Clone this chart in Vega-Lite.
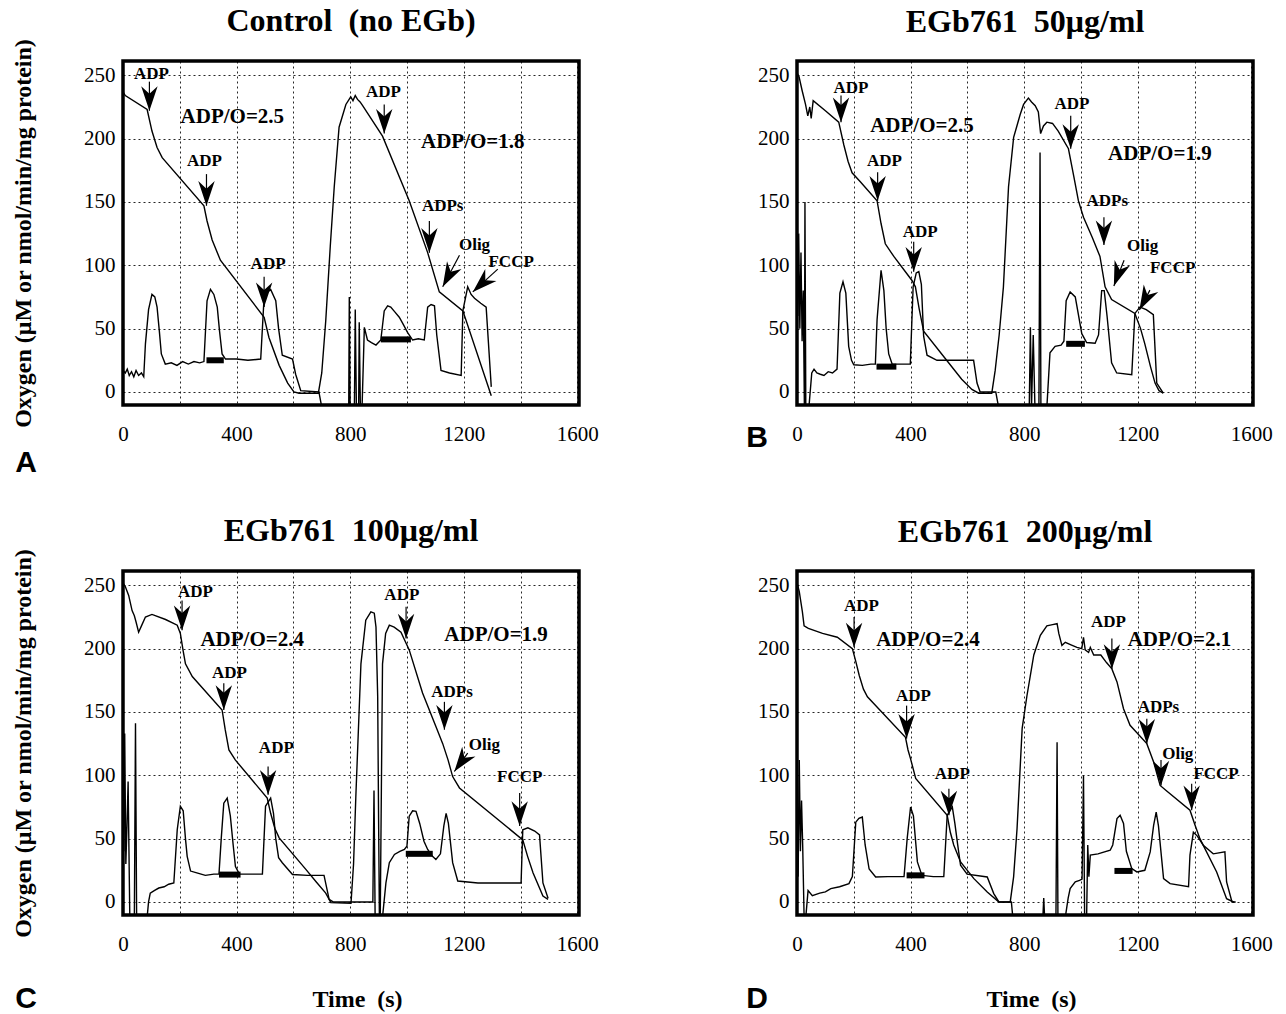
{
"$schema":"https://vega.github.io/schema/vega-lite/v6.json",
"padding":{"left":9,"top":3,"right":5,"bottom":0},
"background":"white",
"datasets":{
"traces":[
{"p":"A","s":"o","t":0,"v":237},{"p":"A","s":"o","t":8,"v":234},{"p":"A","s":"o","t":85,"v":223},{"p":"A","s":"o","t":102,"v":206},{"p":"A","s":"o","t":120,"v":193},{"p":"A","s":"o","t":138,"v":185},{"p":"A","s":"o","t":285,"v":147},{"p":"A","s":"o","t":296,"v":135},{"p":"A","s":"o","t":314,"v":120},{"p":"A","s":"o","t":343,"v":104},{"p":"A","s":"o","t":497,"v":59},{"p":"A","s":"o","t":514,"v":43},{"p":"A","s":"o","t":550,"v":21},{"p":"A","s":"o","t":580,"v":7},{"p":"A","s":"o","t":602,"v":0},{"p":"A","s":"o","t":620,"v":-1},{"p":"A","s":"o","t":688,"v":-1},{"p":"A","s":"o","t":700,"v":15},{"p":"A","s":"o","t":714,"v":56},{"p":"A","s":"o","t":730,"v":115},{"p":"A","s":"o","t":744,"v":162},{"p":"A","s":"o","t":761,"v":209},{"p":"A","s":"o","t":785,"v":227},{"p":"A","s":"o","t":802,"v":233},{"p":"A","s":"o","t":810,"v":230},{"p":"A","s":"o","t":818,"v":234},{"p":"A","s":"o","t":826,"v":231},{"p":"A","s":"o","t":835,"v":229},{"p":"A","s":"o","t":844,"v":226},{"p":"A","s":"o","t":914,"v":202},{"p":"A","s":"o","t":1008,"v":151},{"p":"A","s":"o","t":1073,"v":110},{"p":"A","s":"o","t":1114,"v":79},{"p":"A","s":"o","t":1197,"v":64},{"p":"A","s":"o","t":1297,"v":-3},
{"p":"A","s":"r","t":0,"v":17},{"p":"A","s":"r","t":8,"v":15},{"p":"A","s":"r","t":15,"v":18},{"p":"A","s":"r","t":22,"v":13},{"p":"A","s":"r","t":30,"v":16},{"p":"A","s":"r","t":38,"v":12},{"p":"A","s":"r","t":46,"v":17},{"p":"A","s":"r","t":55,"v":13},{"p":"A","s":"r","t":65,"v":15},{"p":"A","s":"r","t":73,"v":12},{"p":"A","s":"r","t":79,"v":38},{"p":"A","s":"r","t":90,"v":65},{"p":"A","s":"r","t":102,"v":77},{"p":"A","s":"r","t":112,"v":75},{"p":"A","s":"r","t":120,"v":67},{"p":"A","s":"r","t":128,"v":48},{"p":"A","s":"r","t":135,"v":30},{"p":"A","s":"r","t":149,"v":22},{"p":"A","s":"r","t":170,"v":23},{"p":"A","s":"r","t":190,"v":21},{"p":"A","s":"r","t":210,"v":24},{"p":"A","s":"r","t":230,"v":22},{"p":"A","s":"r","t":250,"v":24},{"p":"A","s":"r","t":270,"v":23},{"p":"A","s":"r","t":285,"v":24},{"p":"A","s":"r","t":296,"v":72},{"p":"A","s":"r","t":308,"v":81},{"p":"A","s":"r","t":320,"v":77},{"p":"A","s":"r","t":332,"v":67},{"p":"A","s":"r","t":340,"v":48},{"p":"A","s":"r","t":349,"v":30},{"p":"A","s":"r","t":361,"v":26},{"p":"A","s":"r","t":400,"v":26},{"p":"A","s":"r","t":440,"v":25},{"p":"A","s":"r","t":485,"v":26},{"p":"A","s":"r","t":497,"v":75},{"p":"A","s":"r","t":510,"v":79},{"p":"A","s":"r","t":520,"v":81},{"p":"A","s":"r","t":538,"v":72},{"p":"A","s":"r","t":548,"v":50},{"p":"A","s":"r","t":561,"v":29},{"p":"A","s":"r","t":597,"v":26},{"p":"A","s":"r","t":608,"v":14},{"p":"A","s":"r","t":626,"v":1},{"p":"A","s":"r","t":690,"v":0},{"p":"A","s":"r","t":700,"v":-12},{"p":"A","s":"r","t":795,"v":-12},{"p":"A","s":"r","t":797,"v":75},{"p":"A","s":"r","t":800,"v":-12},{"p":"A","s":"r","t":815,"v":-12},{"p":"A","s":"r","t":818,"v":65},{"p":"A","s":"r","t":822,"v":-12},{"p":"A","s":"r","t":830,"v":-12},{"p":"A","s":"r","t":832,"v":55},{"p":"A","s":"r","t":836,"v":-12},{"p":"A","s":"r","t":842,"v":-12},{"p":"A","s":"r","t":850,"v":51},{"p":"A","s":"r","t":861,"v":41},{"p":"A","s":"r","t":875,"v":39},{"p":"A","s":"r","t":891,"v":37},{"p":"A","s":"r","t":908,"v":41},{"p":"A","s":"r","t":920,"v":64},{"p":"A","s":"r","t":932,"v":68},{"p":"A","s":"r","t":943,"v":67},{"p":"A","s":"r","t":958,"v":63},{"p":"A","s":"r","t":973,"v":59},{"p":"A","s":"r","t":988,"v":53},{"p":"A","s":"r","t":1002,"v":47},{"p":"A","s":"r","t":1020,"v":41},{"p":"A","s":"r","t":1040,"v":42},{"p":"A","s":"r","t":1061,"v":41},{"p":"A","s":"r","t":1073,"v":67},{"p":"A","s":"r","t":1085,"v":69},{"p":"A","s":"r","t":1097,"v":68},{"p":"A","s":"r","t":1105,"v":45},{"p":"A","s":"r","t":1120,"v":17},{"p":"A","s":"r","t":1150,"v":15},{"p":"A","s":"r","t":1191,"v":13},{"p":"A","s":"r","t":1197,"v":64},{"p":"A","s":"r","t":1214,"v":83},{"p":"A","s":"r","t":1226,"v":77},{"p":"A","s":"r","t":1238,"v":74},{"p":"A","s":"r","t":1260,"v":70},{"p":"A","s":"r","t":1279,"v":67},{"p":"A","s":"r","t":1297,"v":4},
{"p":"B","s":"o","t":0,"v":252},{"p":"B","s":"o","t":7,"v":249},{"p":"B","s":"o","t":18,"v":238},{"p":"B","s":"o","t":30,"v":227},{"p":"B","s":"o","t":38,"v":218},{"p":"B","s":"o","t":45,"v":225},{"p":"B","s":"o","t":50,"v":216},{"p":"B","s":"o","t":57,"v":230},{"p":"B","s":"o","t":100,"v":222},{"p":"B","s":"o","t":147,"v":213},{"p":"B","s":"o","t":165,"v":195},{"p":"B","s":"o","t":180,"v":182},{"p":"B","s":"o","t":194,"v":173},{"p":"B","s":"o","t":223,"v":166},{"p":"B","s":"o","t":282,"v":151},{"p":"B","s":"o","t":296,"v":133},{"p":"B","s":"o","t":311,"v":117},{"p":"B","s":"o","t":341,"v":107},{"p":"B","s":"o","t":405,"v":88},{"p":"B","s":"o","t":417,"v":83},{"p":"B","s":"o","t":430,"v":66},{"p":"B","s":"o","t":446,"v":48},{"p":"B","s":"o","t":520,"v":27},{"p":"B","s":"o","t":580,"v":10},{"p":"B","s":"o","t":616,"v":2},{"p":"B","s":"o","t":640,"v":-1},{"p":"B","s":"o","t":686,"v":-1},{"p":"B","s":"o","t":698,"v":17},{"p":"B","s":"o","t":712,"v":45},{"p":"B","s":"o","t":727,"v":83},{"p":"B","s":"o","t":745,"v":162},{"p":"B","s":"o","t":763,"v":201},{"p":"B","s":"o","t":786,"v":219},{"p":"B","s":"o","t":798,"v":227},{"p":"B","s":"o","t":808,"v":230},{"p":"B","s":"o","t":815,"v":232},{"p":"B","s":"o","t":826,"v":229},{"p":"B","s":"o","t":839,"v":226},{"p":"B","s":"o","t":850,"v":221},{"p":"B","s":"o","t":858,"v":204},{"p":"B","s":"o","t":868,"v":210},{"p":"B","s":"o","t":880,"v":213},{"p":"B","s":"o","t":900,"v":212},{"p":"B","s":"o","t":920,"v":206},{"p":"B","s":"o","t":956,"v":192},{"p":"B","s":"o","t":975,"v":170},{"p":"B","s":"o","t":991,"v":151},{"p":"B","s":"o","t":1009,"v":138},{"p":"B","s":"o","t":1040,"v":122},{"p":"B","s":"o","t":1067,"v":107},{"p":"B","s":"o","t":1085,"v":83},{"p":"B","s":"o","t":1108,"v":73},{"p":"B","s":"o","t":1190,"v":62},{"p":"B","s":"o","t":1210,"v":50},{"p":"B","s":"o","t":1225,"v":38},{"p":"B","s":"o","t":1245,"v":20},{"p":"B","s":"o","t":1261,"v":7},{"p":"B","s":"o","t":1275,"v":1},{"p":"B","s":"o","t":1290,"v":-1},
{"p":"B","s":"r","t":0,"v":120},{"p":"B","s":"r","t":3,"v":60},{"p":"B","s":"r","t":6,"v":125},{"p":"B","s":"r","t":10,"v":50},{"p":"B","s":"r","t":14,"v":110},{"p":"B","s":"r","t":18,"v":40},{"p":"B","s":"r","t":22,"v":80},{"p":"B","s":"r","t":26,"v":-12},{"p":"B","s":"r","t":28,"v":150},{"p":"B","s":"r","t":31,"v":-12},{"p":"B","s":"r","t":42,"v":-12},{"p":"B","s":"r","t":52,"v":15},{"p":"B","s":"r","t":60,"v":18},{"p":"B","s":"r","t":70,"v":15},{"p":"B","s":"r","t":82,"v":14},{"p":"B","s":"r","t":95,"v":13},{"p":"B","s":"r","t":110,"v":16},{"p":"B","s":"r","t":125,"v":15},{"p":"B","s":"r","t":141,"v":18},{"p":"B","s":"r","t":151,"v":78},{"p":"B","s":"r","t":162,"v":87},{"p":"B","s":"r","t":172,"v":78},{"p":"B","s":"r","t":182,"v":36},{"p":"B","s":"r","t":192,"v":25},{"p":"B","s":"r","t":200,"v":21.5},{"p":"B","s":"r","t":230,"v":21},{"p":"B","s":"r","t":260,"v":22},{"p":"B","s":"r","t":276,"v":22},{"p":"B","s":"r","t":282,"v":57},{"p":"B","s":"r","t":296,"v":96},{"p":"B","s":"r","t":306,"v":80},{"p":"B","s":"r","t":314,"v":50},{"p":"B","s":"r","t":323,"v":30},{"p":"B","s":"r","t":335,"v":22},{"p":"B","s":"r","t":399,"v":22},{"p":"B","s":"r","t":409,"v":83},{"p":"B","s":"r","t":420,"v":94},{"p":"B","s":"r","t":429,"v":95},{"p":"B","s":"r","t":438,"v":85},{"p":"B","s":"r","t":446,"v":44},{"p":"B","s":"r","t":458,"v":29},{"p":"B","s":"r","t":493,"v":25},{"p":"B","s":"r","t":560,"v":25},{"p":"B","s":"r","t":622,"v":25},{"p":"B","s":"r","t":634,"v":7},{"p":"B","s":"r","t":645,"v":0},{"p":"B","s":"r","t":700,"v":0},{"p":"B","s":"r","t":710,"v":-12},{"p":"B","s":"r","t":818,"v":-12},{"p":"B","s":"r","t":822,"v":51},{"p":"B","s":"r","t":826,"v":-12},{"p":"B","s":"r","t":832,"v":45},{"p":"B","s":"r","t":838,"v":-12},{"p":"B","s":"r","t":852,"v":-12},{"p":"B","s":"r","t":856,"v":189},{"p":"B","s":"r","t":859,"v":-12},{"p":"B","s":"r","t":880,"v":-12},{"p":"B","s":"r","t":891,"v":31},{"p":"B","s":"r","t":909,"v":36},{"p":"B","s":"r","t":930,"v":37},{"p":"B","s":"r","t":940,"v":40},{"p":"B","s":"r","t":948,"v":72},{"p":"B","s":"r","t":962,"v":79},{"p":"B","s":"r","t":980,"v":75},{"p":"B","s":"r","t":1003,"v":46},{"p":"B","s":"r","t":1020,"v":39},{"p":"B","s":"r","t":1050,"v":38.5},{"p":"B","s":"r","t":1062,"v":45},{"p":"B","s":"r","t":1073,"v":80},{"p":"B","s":"r","t":1082,"v":80},{"p":"B","s":"r","t":1092,"v":60},{"p":"B","s":"r","t":1108,"v":23},{"p":"B","s":"r","t":1126,"v":15},{"p":"B","s":"r","t":1179,"v":13.6},{"p":"B","s":"r","t":1190,"v":62},{"p":"B","s":"r","t":1208,"v":67},{"p":"B","s":"r","t":1230,"v":65},{"p":"B","s":"r","t":1255,"v":61},{"p":"B","s":"r","t":1267,"v":7},{"p":"B","s":"r","t":1290,"v":-1},
{"p":"C","s":"o","t":0,"v":252},{"p":"C","s":"o","t":8,"v":249},{"p":"C","s":"o","t":20,"v":242},{"p":"C","s":"o","t":32,"v":230},{"p":"C","s":"o","t":40,"v":226},{"p":"C","s":"o","t":46,"v":221},{"p":"C","s":"o","t":55,"v":213},{"p":"C","s":"o","t":65,"v":218},{"p":"C","s":"o","t":79,"v":225},{"p":"C","s":"o","t":102,"v":227},{"p":"C","s":"o","t":150,"v":223},{"p":"C","s":"o","t":191,"v":218.5},{"p":"C","s":"o","t":202,"v":212},{"p":"C","s":"o","t":212,"v":198},{"p":"C","s":"o","t":220,"v":188},{"p":"C","s":"o","t":244,"v":178},{"p":"C","s":"o","t":349,"v":151.6},{"p":"C","s":"o","t":360,"v":136},{"p":"C","s":"o","t":373,"v":120},{"p":"C","s":"o","t":396,"v":112},{"p":"C","s":"o","t":508,"v":82},{"p":"C","s":"o","t":520,"v":70},{"p":"C","s":"o","t":535,"v":58},{"p":"C","s":"o","t":550,"v":50.6},{"p":"C","s":"o","t":644,"v":25.7},{"p":"C","s":"o","t":680,"v":16},{"p":"C","s":"o","t":714,"v":7},{"p":"C","s":"o","t":732,"v":-0.5},{"p":"C","s":"o","t":803,"v":-1},{"p":"C","s":"o","t":812,"v":30},{"p":"C","s":"o","t":820,"v":83},{"p":"C","s":"o","t":838,"v":188},{"p":"C","s":"o","t":855,"v":222.5},{"p":"C","s":"o","t":873,"v":229},{"p":"C","s":"o","t":885,"v":228},{"p":"C","s":"o","t":891,"v":217},{"p":"C","s":"o","t":897,"v":162},{"p":"C","s":"o","t":900,"v":70},{"p":"C","s":"o","t":903,"v":-12},{"p":"C","s":"o","t":906,"v":-12},{"p":"C","s":"o","t":910,"v":90},{"p":"C","s":"o","t":914,"v":188},{"p":"C","s":"o","t":925,"v":212},{"p":"C","s":"o","t":938,"v":218.5},{"p":"C","s":"o","t":955,"v":217},{"p":"C","s":"o","t":979,"v":213},{"p":"C","s":"o","t":1008,"v":199},{"p":"C","s":"o","t":1055,"v":165},{"p":"C","s":"o","t":1102,"v":138.5},{"p":"C","s":"o","t":1126,"v":125},{"p":"C","s":"o","t":1145,"v":112},{"p":"C","s":"o","t":1161,"v":99},{"p":"C","s":"o","t":1185,"v":90},{"p":"C","s":"o","t":1408,"v":49},{"p":"C","s":"o","t":1425,"v":36},{"p":"C","s":"o","t":1444,"v":23},{"p":"C","s":"o","t":1479,"v":4.7},{"p":"C","s":"o","t":1497,"v":2},
{"p":"C","s":"r","t":0,"v":130},{"p":"C","s":"r","t":3,"v":40},{"p":"C","s":"r","t":6,"v":133},{"p":"C","s":"r","t":10,"v":30},{"p":"C","s":"r","t":14,"v":60},{"p":"C","s":"r","t":18,"v":95},{"p":"C","s":"r","t":21,"v":40},{"p":"C","s":"r","t":24,"v":-12},{"p":"C","s":"r","t":40,"v":-12},{"p":"C","s":"r","t":44,"v":141},{"p":"C","s":"r","t":48,"v":-12},{"p":"C","s":"r","t":85,"v":-12},{"p":"C","s":"r","t":90,"v":0},{"p":"C","s":"r","t":96,"v":7},{"p":"C","s":"r","t":110,"v":9},{"p":"C","s":"r","t":126,"v":11},{"p":"C","s":"r","t":145,"v":12},{"p":"C","s":"r","t":161,"v":14},{"p":"C","s":"r","t":179,"v":15},{"p":"C","s":"r","t":191,"v":57},{"p":"C","s":"r","t":202,"v":75.6},{"p":"C","s":"r","t":212,"v":72},{"p":"C","s":"r","t":220,"v":50},{"p":"C","s":"r","t":226,"v":36},{"p":"C","s":"r","t":238,"v":24.4},{"p":"C","s":"r","t":260,"v":23},{"p":"C","s":"r","t":290,"v":21},{"p":"C","s":"r","t":320,"v":22},{"p":"C","s":"r","t":338,"v":22},{"p":"C","s":"r","t":346,"v":50},{"p":"C","s":"r","t":355,"v":78},{"p":"C","s":"r","t":367,"v":82},{"p":"C","s":"r","t":378,"v":68},{"p":"C","s":"r","t":388,"v":45},{"p":"C","s":"r","t":396,"v":28},{"p":"C","s":"r","t":410,"v":22},{"p":"C","s":"r","t":450,"v":22},{"p":"C","s":"r","t":491,"v":22},{"p":"C","s":"r","t":502,"v":75.6},{"p":"C","s":"r","t":520,"v":82},{"p":"C","s":"r","t":530,"v":70},{"p":"C","s":"r","t":538,"v":50},{"p":"C","s":"r","t":548,"v":35},{"p":"C","s":"r","t":561,"v":31},{"p":"C","s":"r","t":597,"v":21.7},{"p":"C","s":"r","t":650,"v":21},{"p":"C","s":"r","t":708,"v":21},{"p":"C","s":"r","t":726,"v":2},{"p":"C","s":"r","t":740,"v":0},{"p":"C","s":"r","t":880,"v":0},{"p":"C","s":"r","t":884,"v":88},{"p":"C","s":"r","t":888,"v":-12},{"p":"C","s":"r","t":914,"v":-12},{"p":"C","s":"r","t":926,"v":15},{"p":"C","s":"r","t":938,"v":31},{"p":"C","s":"r","t":956,"v":37.5},{"p":"C","s":"r","t":975,"v":40},{"p":"C","s":"r","t":991,"v":41.4},{"p":"C","s":"r","t":1000,"v":44},{"p":"C","s":"r","t":1008,"v":67.7},{"p":"C","s":"r","t":1020,"v":72},{"p":"C","s":"r","t":1032,"v":71.6},{"p":"C","s":"r","t":1045,"v":62},{"p":"C","s":"r","t":1060,"v":48},{"p":"C","s":"r","t":1073,"v":41.4},{"p":"C","s":"r","t":1090,"v":36},{"p":"C","s":"r","t":1102,"v":33.5},{"p":"C","s":"r","t":1118,"v":38},{"p":"C","s":"r","t":1130,"v":60},{"p":"C","s":"r","t":1138,"v":70},{"p":"C","s":"r","t":1146,"v":62},{"p":"C","s":"r","t":1161,"v":31},{"p":"C","s":"r","t":1179,"v":16.5},{"p":"C","s":"r","t":1250,"v":15},{"p":"C","s":"r","t":1350,"v":15},{"p":"C","s":"r","t":1402,"v":15},{"p":"C","s":"r","t":1408,"v":57},{"p":"C","s":"r","t":1426,"v":58.5},{"p":"C","s":"r","t":1450,"v":56},{"p":"C","s":"r","t":1467,"v":53},{"p":"C","s":"r","t":1479,"v":15},{"p":"C","s":"r","t":1497,"v":3},
{"p":"D","s":"o","t":0,"v":252},{"p":"D","s":"o","t":8,"v":245},{"p":"D","s":"o","t":19,"v":229},{"p":"D","s":"o","t":25,"v":218},{"p":"D","s":"o","t":40,"v":216},{"p":"D","s":"o","t":90,"v":212},{"p":"D","s":"o","t":142,"v":209},{"p":"D","s":"o","t":195,"v":200},{"p":"D","s":"o","t":207,"v":190},{"p":"D","s":"o","t":219,"v":179},{"p":"D","s":"o","t":234,"v":168},{"p":"D","s":"o","t":248,"v":162},{"p":"D","s":"o","t":382,"v":130},{"p":"D","s":"o","t":391,"v":120},{"p":"D","s":"o","t":400,"v":113},{"p":"D","s":"o","t":418,"v":97.5},{"p":"D","s":"o","t":529,"v":68.4},{"p":"D","s":"o","t":540,"v":55},{"p":"D","s":"o","t":552,"v":45},{"p":"D","s":"o","t":576,"v":31.6},{"p":"D","s":"o","t":623,"v":18.4},{"p":"D","s":"o","t":670,"v":7.9},{"p":"D","s":"o","t":711,"v":0},{"p":"D","s":"o","t":751,"v":0},{"p":"D","s":"o","t":763,"v":20},{"p":"D","s":"o","t":775,"v":57.9},{"p":"D","s":"o","t":793,"v":137},{"p":"D","s":"o","t":810,"v":163},{"p":"D","s":"o","t":834,"v":195},{"p":"D","s":"o","t":857,"v":210.5},{"p":"D","s":"o","t":880,"v":218},{"p":"D","s":"o","t":900,"v":219},{"p":"D","s":"o","t":916,"v":219.7},{"p":"D","s":"o","t":922,"v":212},{"p":"D","s":"o","t":933,"v":202.6},{"p":"D","s":"o","t":945,"v":205},{"p":"D","s":"o","t":965,"v":203},{"p":"D","s":"o","t":986,"v":201},{"p":"D","s":"o","t":1003,"v":200},{"p":"D","s":"o","t":1009,"v":209},{"p":"D","s":"o","t":1015,"v":199},{"p":"D","s":"o","t":1027,"v":197},{"p":"D","s":"o","t":1033,"v":201},{"p":"D","s":"o","t":1045,"v":195},{"p":"D","s":"o","t":1070,"v":195},{"p":"D","s":"o","t":1090,"v":189},{"p":"D","s":"o","t":1109,"v":184},{"p":"D","s":"o","t":1127,"v":173.7},{"p":"D","s":"o","t":1150,"v":152.6},{"p":"D","s":"o","t":1173,"v":139.5},{"p":"D","s":"o","t":1232,"v":125},{"p":"D","s":"o","t":1256,"v":110.5},{"p":"D","s":"o","t":1279,"v":92},{"p":"D","s":"o","t":1300,"v":88},{"p":"D","s":"o","t":1384,"v":72.4},{"p":"D","s":"o","t":1402,"v":60.5},{"p":"D","s":"o","t":1419,"v":50},{"p":"D","s":"o","t":1478,"v":23.7},{"p":"D","s":"o","t":1513,"v":2.6},{"p":"D","s":"o","t":1537,"v":0},{"p":"D","s":"o","t":1545,"v":0},
{"p":"D","s":"r","t":0,"v":100},{"p":"D","s":"r","t":4,"v":20},{"p":"D","s":"r","t":8,"v":112},{"p":"D","s":"r","t":12,"v":40},{"p":"D","s":"r","t":16,"v":80},{"p":"D","s":"r","t":20,"v":45},{"p":"D","s":"r","t":25,"v":-12},{"p":"D","s":"r","t":31,"v":-12},{"p":"D","s":"r","t":39,"v":9},{"p":"D","s":"r","t":54,"v":5},{"p":"D","s":"r","t":80,"v":7},{"p":"D","s":"r","t":100,"v":8},{"p":"D","s":"r","t":119,"v":10.5},{"p":"D","s":"r","t":150,"v":12},{"p":"D","s":"r","t":183,"v":14.5},{"p":"D","s":"r","t":195,"v":20},{"p":"D","s":"r","t":207,"v":63},{"p":"D","s":"r","t":218,"v":66},{"p":"D","s":"r","t":230,"v":67},{"p":"D","s":"r","t":240,"v":45},{"p":"D","s":"r","t":254,"v":26},{"p":"D","s":"r","t":277,"v":19.7},{"p":"D","s":"r","t":320,"v":20},{"p":"D","s":"r","t":377,"v":20},{"p":"D","s":"r","t":388,"v":50},{"p":"D","s":"r","t":400,"v":75},{"p":"D","s":"r","t":410,"v":68},{"p":"D","s":"r","t":424,"v":31.6},{"p":"D","s":"r","t":440,"v":21},{"p":"D","s":"r","t":480,"v":20},{"p":"D","s":"r","t":517,"v":20},{"p":"D","s":"r","t":529,"v":68.4},{"p":"D","s":"r","t":547,"v":75},{"p":"D","s":"r","t":556,"v":62},{"p":"D","s":"r","t":566,"v":45},{"p":"D","s":"r","t":576,"v":29},{"p":"D","s":"r","t":599,"v":22},{"p":"D","s":"r","t":670,"v":19.7},{"p":"D","s":"r","t":693,"v":6.6},{"p":"D","s":"r","t":711,"v":0},{"p":"D","s":"r","t":755,"v":0},{"p":"D","s":"r","t":760,"v":-12},{"p":"D","s":"r","t":866,"v":-12},{"p":"D","s":"r","t":869,"v":3},{"p":"D","s":"r","t":872,"v":-12},{"p":"D","s":"r","t":912,"v":-12},{"p":"D","s":"r","t":916,"v":126},{"p":"D","s":"r","t":919,"v":-12},{"p":"D","s":"r","t":945,"v":-12},{"p":"D","s":"r","t":955,"v":3},{"p":"D","s":"r","t":962,"v":10.5},{"p":"D","s":"r","t":980,"v":15.8},{"p":"D","s":"r","t":995,"v":17},{"p":"D","s":"r","t":1004,"v":18},{"p":"D","s":"r","t":1009,"v":100},{"p":"D","s":"r","t":1013,"v":-12},{"p":"D","s":"r","t":1020,"v":-12},{"p":"D","s":"r","t":1024,"v":45},{"p":"D","s":"r","t":1028,"v":20},{"p":"D","s":"r","t":1033,"v":37},{"p":"D","s":"r","t":1060,"v":38},{"p":"D","s":"r","t":1103,"v":40.8},{"p":"D","s":"r","t":1112,"v":45},{"p":"D","s":"r","t":1127,"v":65.8},{"p":"D","s":"r","t":1138,"v":68.4},{"p":"D","s":"r","t":1150,"v":62},{"p":"D","s":"r","t":1160,"v":40},{"p":"D","s":"r","t":1179,"v":26.3},{"p":"D","s":"r","t":1197,"v":23.7},{"p":"D","s":"r","t":1225,"v":25},{"p":"D","s":"r","t":1244,"v":39.5},{"p":"D","s":"r","t":1256,"v":60.5},{"p":"D","s":"r","t":1265,"v":71},{"p":"D","s":"r","t":1273,"v":60},{"p":"D","s":"r","t":1291,"v":18.4},{"p":"D","s":"r","t":1314,"v":14.5},{"p":"D","s":"r","t":1379,"v":12},{"p":"D","s":"r","t":1384,"v":37},{"p":"D","s":"r","t":1396,"v":55},{"p":"D","s":"r","t":1410,"v":52},{"p":"D","s":"r","t":1431,"v":44.8},{"p":"D","s":"r","t":1466,"v":38},{"p":"D","s":"r","t":1507,"v":39.5},{"p":"D","s":"r","t":1513,"v":15.8},{"p":"D","s":"r","t":1532,"v":0},{"p":"D","s":"r","t":1540,"v":0}
],
"notes":[
{"p":"A","label":"ADP","t":100,"v":251,"k":"s"},{"p":"A","label":"ADP/O=2.5","t":385,"v":217,"k":"b"},{"p":"A","label":"ADP","t":287,"v":182.6,"k":"s"},{"p":"A","label":"ADP","t":511,"v":101,"k":"s"},{"p":"A","label":"ADP","t":917,"v":237,"k":"s"},{"p":"A","label":"ADP/O=1.8","t":1232,"v":197,"k":"b"},{"p":"A","label":"ADPs","t":1126,"v":147,"k":"s"},{"p":"A","label":"Olig","t":1238,"v":116,"k":"s"},{"p":"A","label":"FCCP","t":1367,"v":102.5,"k":"s"},
{"p":"B","label":"ADP","t":190,"v":240,"k":"s"},{"p":"B","label":"ADP/O=2.5","t":440,"v":210,"k":"b"},{"p":"B","label":"ADP","t":308,"v":182.6,"k":"s"},{"p":"B","label":"ADP","t":434,"v":126,"k":"s"},{"p":"B","label":"ADP","t":968,"v":227,"k":"s"},{"p":"B","label":"ADP/O=1.9","t":1278,"v":188,"k":"b"},{"p":"B","label":"ADPs","t":1093,"v":151,"k":"s"},{"p":"B","label":"Olig","t":1217,"v":115,"k":"s"},{"p":"B","label":"FCCP","t":1323,"v":97.5,"k":"s"},
{"p":"C","label":"ADP","t":255,"v":245,"k":"s"},{"p":"C","label":"ADP/O=2.4","t":455,"v":207,"k":"b"},{"p":"C","label":"ADP","t":375,"v":180.5,"k":"s"},{"p":"C","label":"ADP","t":540,"v":121.5,"k":"s"},{"p":"C","label":"ADP","t":982,"v":242,"k":"s"},{"p":"C","label":"ADP/O=1.9","t":1314,"v":210.6,"k":"b"},{"p":"C","label":"ADPs","t":1159,"v":166,"k":"s"},{"p":"C","label":"Olig","t":1273,"v":124,"k":"s"},{"p":"C","label":"FCCP","t":1397,"v":99,"k":"s"},
{"p":"D","label":"ADP","t":227,"v":234,"k":"s"},{"p":"D","label":"ADP/O=2.4","t":461,"v":206.6,"k":"b"},{"p":"D","label":"ADP","t":410,"v":163,"k":"s"},{"p":"D","label":"ADP","t":547,"v":101,"k":"s"},{"p":"D","label":"ADP","t":1097,"v":221,"k":"s"},{"p":"D","label":"ADP/O=2.1","t":1347,"v":206.6,"k":"b"},{"p":"D","label":"ADPs","t":1273,"v":154,"k":"s"},{"p":"D","label":"Olig","t":1341,"v":117,"k":"s"},{"p":"D","label":"FCCP","t":1476,"v":101,"k":"s"}
],
"arrows":[
{"p":"A","t1":93,"v1":245,"t2":93,"v2":222,"ang":0},{"p":"A","t1":294,"v1":172,"t2":294,"v2":147,"ang":0},{"p":"A","t1":497,"v1":91,"t2":497,"v2":67,"ang":0},{"p":"A","t1":920,"v1":227,"t2":920,"v2":204,"ang":0},{"p":"A","t1":1079,"v1":135,"t2":1079,"v2":110,"ang":0},{"p":"A","t1":1185,"v1":108,"t2":1126,"v2":83,"ang":28},{"p":"A","t1":1320,"v1":97,"t2":1232,"v2":79,"ang":47},
{"p":"B","t1":155,"v1":234,"t2":155,"v2":213,"ang":0},{"p":"B","t1":284,"v1":173.5,"t2":284,"v2":151,"ang":0},{"p":"B","t1":411,"v1":118.5,"t2":411,"v2":95,"ang":0},{"p":"B","t1":964,"v1":218,"t2":964,"v2":192,"ang":0},{"p":"B","t1":1081,"v1":138,"t2":1081,"v2":116,"ang":0},{"p":"B","t1":1152,"v1":104,"t2":1116,"v2":83.7,"ang":20},{"p":"B","t1":1243,"v1":80.4,"t2":1206,"v2":64.7,"ang":28},
{"p":"C","t1":208,"v1":238,"t2":208,"v2":214.6,"ang":0},{"p":"C","t1":355,"v1":172.6,"t2":355,"v2":151.6,"ang":0},{"p":"C","t1":511,"v1":107,"t2":511,"v2":84.7,"ang":0},{"p":"C","t1":997,"v1":233,"t2":997,"v2":208,"ang":0},{"p":"C","t1":1132,"v1":158,"t2":1132,"v2":136,"ang":0},{"p":"C","t1":1214,"v1":117.5,"t2":1167,"v2":103,"ang":36},{"p":"C","t1":1397,"v1":86,"t2":1397,"v2":60,"ang":0},
{"p":"D","t1":201,"v1":225,"t2":201,"v2":201,"ang":0},{"p":"D","t1":386,"v1":155,"t2":386,"v2":129,"ang":0},{"p":"D","t1":535,"v1":89.4,"t2":535,"v2":68.4,"ang":0},{"p":"D","t1":1109,"v1":208,"t2":1109,"v2":184,"ang":0},{"p":"D","t1":1232,"v1":144.7,"t2":1232,"v2":125,"ang":0},{"p":"D","t1":1282,"v1":112,"t2":1282,"v2":92,"ang":0},{"p":"D","t1":1390,"v1":93.4,"t2":1390,"v2":72.4,"ang":0}
],
"bars":[
{"p":"A","t1":294,"t2":355,"v":25},{"p":"A","t1":908,"t2":1014,"v":41.5},
{"p":"B","t1":280,"t2":350,"v":20},{"p":"B","t1":948,"t2":1014,"v":38},
{"p":"C","t1":338,"t2":414,"v":21.6},{"p":"C","t1":996,"t2":1091,"v":38},
{"p":"D","t1":386,"t2":449,"v":21},{"p":"D","t1":1118,"t2":1182,"v":24.5}
]
},
"columns":2,
"spacing":{"row":166,"column":218},
"bounds":"flush",
"concat":[
{"width":456,"height":344,"title":{"text":"Control \u00a0(no EGb)","offset":0},
"layer":[
{"data":{"name":"traces"},"transform":[{"filter":"datum.p==='A'"}],"mark":{"type":"line","color":"black","strokeWidth":1.4,"clip":true},
"encoding":{"x":{"field":"t","type":"quantitative","scale":{"domain":[0,1606],"nice":false},"axis":{"values":[0,200,400,600,800,1000,1200,1400,1600],"format":"d","labelExpr":"datum.value % 400 === 0 ? datum.label : ''","title":null}},
"y":{"field":"v","type":"quantitative","scale":{"domain":[-10.3,261.3],"nice":false,"zero":false},"axis":{"values":[0,50,100,150,200,250],"title":"Oxygen (μM or nmol/min/mg protein)","titleX":-100,"titleY":172,"titleAngle":270,"titleBaseline":"middle","titleAlign":"center","titleFontSize":24}},
"detail":{"field":"s"}}},
{"data":{"name":"bars"},"transform":[{"filter":"datum.p==='A'"}],"mark":{"type":"rule","color":"black","strokeWidth":6,"strokeCap":"butt"},"encoding":{"x":{"field":"t1","type":"quantitative"},"x2":{"field":"t2"},"y":{"field":"v","type":"quantitative"}}},
{"data":{"name":"arrows"},"transform":[{"filter":"datum.p==='A'"}],"mark":{"type":"rule","color":"black","strokeWidth":1.2},"encoding":{"x":{"field":"t1","type":"quantitative"},"y":{"field":"v1","type":"quantitative"},"x2":{"field":"t2"},"y2":{"field":"v2"}}},
{"data":{"name":"arrows"},"transform":[{"filter":"datum.p==='A'"}],"mark":{"type":"point","shape":"M0,0L-0.6,-1.8L0,-1.25L0.6,-1.8Z","filled":true,"color":"black","opacity":1,"size":750,"strokeWidth":0},"encoding":{"x":{"field":"t2","type":"quantitative"},"y":{"field":"v2","type":"quantitative"},"angle":{"field":"ang","type":"quantitative","scale":null}}},
{"data":{"name":"notes"},"transform":[{"filter":"datum.p==='A'"}],"mark":{"type":"text","font":"Liberation Serif","fontWeight":"bold","color":"black","align":"center","baseline":"middle"},"encoding":{"x":{"field":"t","type":"quantitative"},"y":{"field":"v","type":"quantitative"},"text":{"field":"label"},"size":{"field":"k","type":"nominal","scale":{"domain":["s","b"],"range":[17,21]},"legend":null}}},
{"data":{"values":[{"L":"A"}]},"mark":{"type":"text","font":"Liberation Sans","fontWeight":"bold","fontSize":30,"color":"black","align":"center","baseline":"middle","dx":-97,"dy":58},"encoding":{"x":{"datum":0},"y":{"datum":-10.3},"text":{"field":"L"}}}
]},
{"width":456,"height":344,"title":{"text":"EGb761 \u00a050μg/ml","offset":22},
"layer":[
{"data":{"name":"traces"},"transform":[{"filter":"datum.p==='B'"}],"mark":{"type":"line","color":"black","strokeWidth":1.4,"clip":true},
"encoding":{"x":{"field":"t","type":"quantitative","scale":{"domain":[0,1606],"nice":false},"axis":{"values":[0,200,400,600,800,1000,1200,1400,1600],"format":"d","labelExpr":"datum.value % 400 === 0 ? datum.label : ''","title":null}},
"y":{"field":"v","type":"quantitative","scale":{"domain":[-10.3,261.3],"nice":false,"zero":false},"axis":{"values":[0,50,100,150,200,250],"title":null}},
"detail":{"field":"s"}}},
{"data":{"name":"bars"},"transform":[{"filter":"datum.p==='B'"}],"mark":{"type":"rule","color":"black","strokeWidth":6,"strokeCap":"butt"},"encoding":{"x":{"field":"t1","type":"quantitative"},"x2":{"field":"t2"},"y":{"field":"v","type":"quantitative"}}},
{"data":{"name":"arrows"},"transform":[{"filter":"datum.p==='B'"}],"mark":{"type":"rule","color":"black","strokeWidth":1.2},"encoding":{"x":{"field":"t1","type":"quantitative"},"y":{"field":"v1","type":"quantitative"},"x2":{"field":"t2"},"y2":{"field":"v2"}}},
{"data":{"name":"arrows"},"transform":[{"filter":"datum.p==='B'"}],"mark":{"type":"point","shape":"M0,0L-0.6,-1.8L0,-1.25L0.6,-1.8Z","filled":true,"color":"black","opacity":1,"size":750,"strokeWidth":0},"encoding":{"x":{"field":"t2","type":"quantitative"},"y":{"field":"v2","type":"quantitative"},"angle":{"field":"ang","type":"quantitative","scale":null}}},
{"data":{"name":"notes"},"transform":[{"filter":"datum.p==='B'"}],"mark":{"type":"text","font":"Liberation Serif","fontWeight":"bold","color":"black","align":"center","baseline":"middle"},"encoding":{"x":{"field":"t","type":"quantitative"},"y":{"field":"v","type":"quantitative"},"text":{"field":"label"},"size":{"field":"k","type":"nominal","scale":{"domain":["s","b"],"range":[17,21]},"legend":null}}},
{"data":{"values":[{"L":"B"}]},"mark":{"type":"text","font":"Liberation Sans","fontWeight":"bold","fontSize":30,"color":"black","align":"center","baseline":"middle","dx":-40,"dy":33},"encoding":{"x":{"datum":0},"y":{"datum":-10.3},"text":{"field":"L"}}}
]},
{"width":456,"height":344,"title":{"text":"EGb761 \u00a0100μg/ml","offset":0},
"layer":[
{"data":{"name":"traces"},"transform":[{"filter":"datum.p==='C'"}],"mark":{"type":"line","color":"black","strokeWidth":1.4,"clip":true},
"encoding":{"x":{"field":"t","type":"quantitative","scale":{"domain":[0,1606],"nice":false},"axis":{"values":[0,200,400,600,800,1000,1200,1400,1600],"format":"d","labelExpr":"datum.value % 400 === 0 ? datum.label : ''","title":"Time \u00a0(s)","titleX":234,"titleY":91,"titleBaseline":"alphabetic","titleAlign":"center","titleFontSize":24}},
"y":{"field":"v","type":"quantitative","scale":{"domain":[-10.3,261.3],"nice":false,"zero":false},"axis":{"values":[0,50,100,150,200,250],"title":"Oxygen (μM or nmol/min/mg protein)","titleX":-100,"titleY":172,"titleAngle":270,"titleBaseline":"middle","titleAlign":"center","titleFontSize":24}},
"detail":{"field":"s"}}},
{"data":{"name":"bars"},"transform":[{"filter":"datum.p==='C'"}],"mark":{"type":"rule","color":"black","strokeWidth":6,"strokeCap":"butt"},"encoding":{"x":{"field":"t1","type":"quantitative"},"x2":{"field":"t2"},"y":{"field":"v","type":"quantitative"}}},
{"data":{"name":"arrows"},"transform":[{"filter":"datum.p==='C'"}],"mark":{"type":"rule","color":"black","strokeWidth":1.2},"encoding":{"x":{"field":"t1","type":"quantitative"},"y":{"field":"v1","type":"quantitative"},"x2":{"field":"t2"},"y2":{"field":"v2"}}},
{"data":{"name":"arrows"},"transform":[{"filter":"datum.p==='C'"}],"mark":{"type":"point","shape":"M0,0L-0.6,-1.8L0,-1.25L0.6,-1.8Z","filled":true,"color":"black","opacity":1,"size":750,"strokeWidth":0},"encoding":{"x":{"field":"t2","type":"quantitative"},"y":{"field":"v2","type":"quantitative"},"angle":{"field":"ang","type":"quantitative","scale":null}}},
{"data":{"name":"notes"},"transform":[{"filter":"datum.p==='C'"}],"mark":{"type":"text","font":"Liberation Serif","fontWeight":"bold","color":"black","align":"center","baseline":"middle"},"encoding":{"x":{"field":"t","type":"quantitative"},"y":{"field":"v","type":"quantitative"},"text":{"field":"label"},"size":{"field":"k","type":"nominal","scale":{"domain":["s","b"],"range":[17,21]},"legend":null}}},
{"data":{"values":[{"L":"C"}]},"mark":{"type":"text","font":"Liberation Sans","fontWeight":"bold","fontSize":30,"color":"black","align":"center","baseline":"middle","dx":-97,"dy":84},"encoding":{"x":{"datum":0},"y":{"datum":-10.3},"text":{"field":"L"}}}
]},
{"width":456,"height":344,"title":{"text":"EGb761 \u00a0200μg/ml","offset":22},
"layer":[
{"data":{"name":"traces"},"transform":[{"filter":"datum.p==='D'"}],"mark":{"type":"line","color":"black","strokeWidth":1.4,"clip":true},
"encoding":{"x":{"field":"t","type":"quantitative","scale":{"domain":[0,1606],"nice":false},"axis":{"values":[0,200,400,600,800,1000,1200,1400,1600],"format":"d","labelExpr":"datum.value % 400 === 0 ? datum.label : ''","title":"Time \u00a0(s)","titleX":234,"titleY":91,"titleBaseline":"alphabetic","titleAlign":"center","titleFontSize":24}},
"y":{"field":"v","type":"quantitative","scale":{"domain":[-10.3,261.3],"nice":false,"zero":false},"axis":{"values":[0,50,100,150,200,250],"title":null}},
"detail":{"field":"s"}}},
{"data":{"name":"bars"},"transform":[{"filter":"datum.p==='D'"}],"mark":{"type":"rule","color":"black","strokeWidth":6,"strokeCap":"butt"},"encoding":{"x":{"field":"t1","type":"quantitative"},"x2":{"field":"t2"},"y":{"field":"v","type":"quantitative"}}},
{"data":{"name":"arrows"},"transform":[{"filter":"datum.p==='D'"}],"mark":{"type":"rule","color":"black","strokeWidth":1.2},"encoding":{"x":{"field":"t1","type":"quantitative"},"y":{"field":"v1","type":"quantitative"},"x2":{"field":"t2"},"y2":{"field":"v2"}}},
{"data":{"name":"arrows"},"transform":[{"filter":"datum.p==='D'"}],"mark":{"type":"point","shape":"M0,0L-0.6,-1.8L0,-1.25L0.6,-1.8Z","filled":true,"color":"black","opacity":1,"size":750,"strokeWidth":0},"encoding":{"x":{"field":"t2","type":"quantitative"},"y":{"field":"v2","type":"quantitative"},"angle":{"field":"ang","type":"quantitative","scale":null}}},
{"data":{"name":"notes"},"transform":[{"filter":"datum.p==='D'"}],"mark":{"type":"text","font":"Liberation Serif","fontWeight":"bold","color":"black","align":"center","baseline":"middle"},"encoding":{"x":{"field":"t","type":"quantitative"},"y":{"field":"v","type":"quantitative"},"text":{"field":"label"},"size":{"field":"k","type":"nominal","scale":{"domain":["s","b"],"range":[17,21]},"legend":null}}},
{"data":{"values":[{"L":"D"}]},"mark":{"type":"text","font":"Liberation Sans","fontWeight":"bold","fontSize":30,"color":"black","align":"center","baseline":"middle","dx":-40,"dy":84},"encoding":{"x":{"datum":0},"y":{"datum":-10.3},"text":{"field":"L"}}}
]}
],
"config":{
"view":{"stroke":"black","strokeWidth":3.5},
"axis":{"grid":true,"gridColor":"black","gridDash":[2,3],"gridWidth":1,"gridOpacity":0.85,"domain":false,"ticks":false,"labelFont":"Liberation Serif","labelFontSize":21,"labelColor":"black","labelFlush":false,"labelOverlap":false,"titleFont":"Liberation Serif","titleFontWeight":"bold","titleColor":"black"},
"axisX":{"labelPadding":18},
"axisY":{"labelPadding":8},
"title":{"font":"Liberation Serif","fontSize":32,"fontWeight":"bold","color":"black","baseline":"alphabetic","anchor":"middle","frame":"group"}
}
}
